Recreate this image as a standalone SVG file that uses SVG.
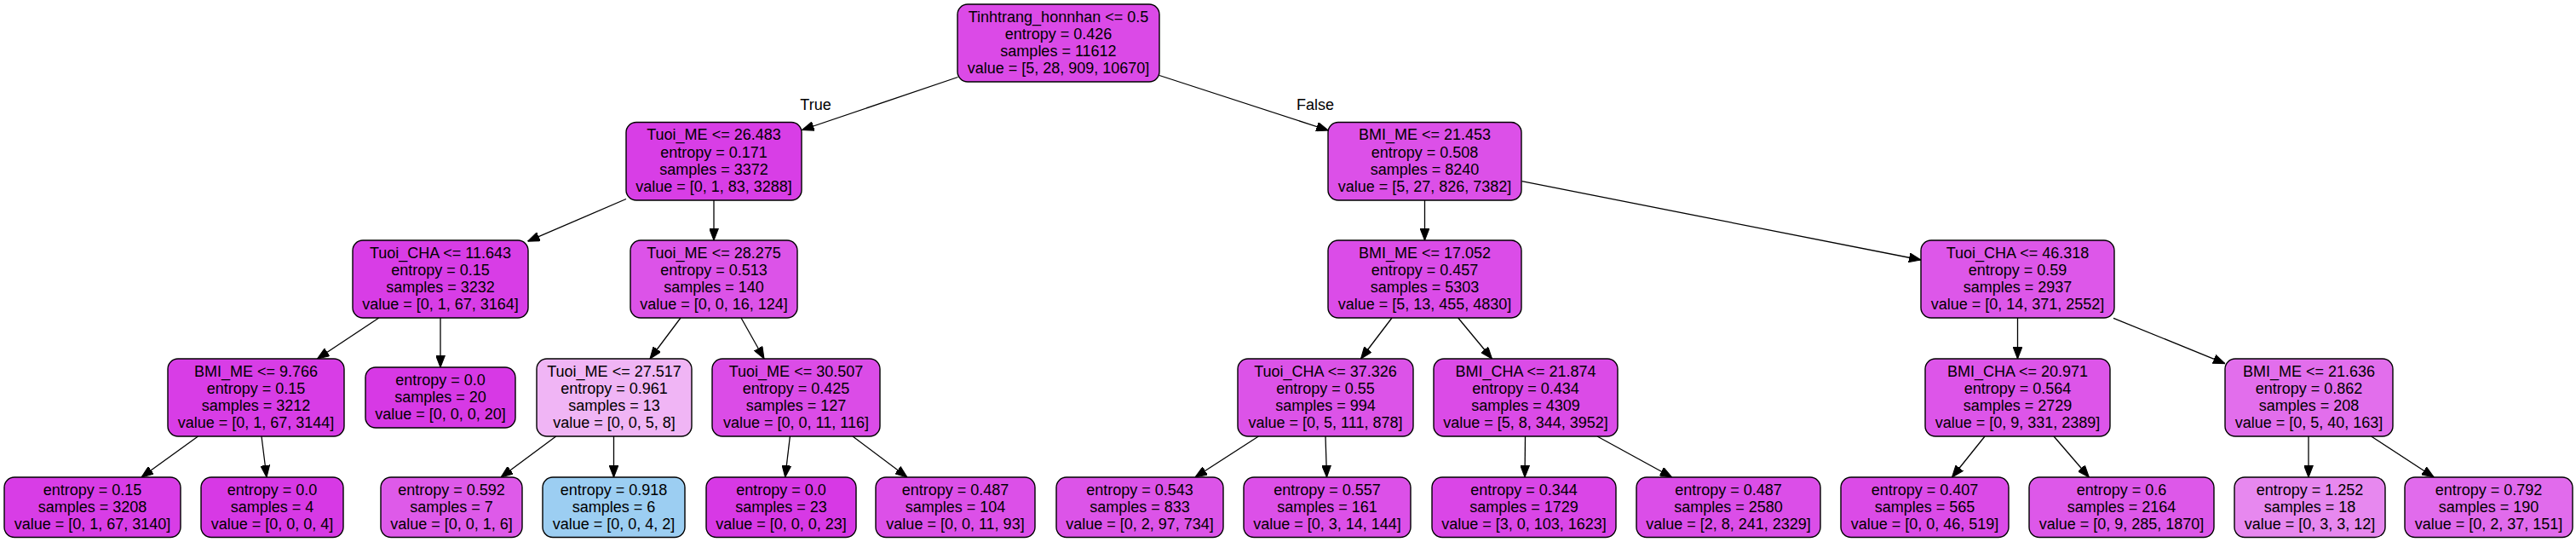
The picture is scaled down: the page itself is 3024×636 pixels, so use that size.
<svg xmlns="http://www.w3.org/2000/svg" width="3024" height="636" viewBox="0 0 3024 636">
<style>
text{font-family:"Liberation Sans",Arial,Helvetica,sans-serif;font-size:18px;text-anchor:middle;fill:#000}
.nd rect{stroke:#000;stroke-width:1.4}
#edges line{stroke:#000;stroke-width:1.3;marker-end:url(#ah)}
</style>
<defs>
<marker id="ah" markerUnits="userSpaceOnUse" markerWidth="14" markerHeight="11" refX="13" refY="5" orient="auto" viewBox="0 0 13 10">
<path d="M0,0 L13,5 L0,10 z" fill="#000" stroke="#000" stroke-width="1"/>
</marker>
</defs>
<rect x="0" y="0" width="3024" height="636" fill="#fff"/>
<g id="edges">
<line x1="1124.5" y1="90.5" x2="941.5" y2="152.5"/>
<line x1="1361" y1="88.5" x2="1559.3" y2="153"/>
<line x1="735" y1="233.5" x2="619.5" y2="283.2"/>
<line x1="838" y1="235" x2="838" y2="282"/>
<line x1="1672.5" y1="235" x2="1672.5" y2="282"/>
<line x1="1786.5" y1="212.7" x2="2255" y2="305"/>
<line x1="444.8" y1="373" x2="372.5" y2="421"/>
<line x1="517" y1="373" x2="517" y2="431"/>
<line x1="799" y1="373" x2="763" y2="421"/>
<line x1="870" y1="373" x2="897" y2="421"/>
<line x1="1634" y1="373" x2="1597.5" y2="421"/>
<line x1="1711.7" y1="373" x2="1751.5" y2="421"/>
<line x1="2368.5" y1="373" x2="2368.5" y2="421"/>
<line x1="2481" y1="373.3" x2="2612" y2="426.6"/>
<line x1="232.5" y1="512" x2="166" y2="560"/>
<line x1="307" y1="512" x2="313" y2="560"/>
<line x1="652.7" y1="512" x2="588" y2="560"/>
<line x1="720.5" y1="512" x2="720.5" y2="560"/>
<line x1="927.4" y1="512" x2="921.7" y2="560"/>
<line x1="1001" y1="512" x2="1065" y2="560"/>
<line x1="1477.4" y1="512" x2="1403" y2="560"/>
<line x1="1556" y1="512" x2="1557.5" y2="560"/>
<line x1="1790.5" y1="512" x2="1790" y2="560"/>
<line x1="1875" y1="512" x2="1962.7" y2="560"/>
<line x1="2330" y1="512" x2="2291.5" y2="560"/>
<line x1="2411" y1="512" x2="2452.4" y2="560"/>
<line x1="2710" y1="512" x2="2710" y2="560"/>
<line x1="2783.6" y1="512" x2="2857.2" y2="560"/>
<text x="957.5" y="129">True</text>
<text x="1544" y="128.5">False</text>
</g>
<g id="n0" class="nd"><rect x="1124" y="5" width="237" height="91" rx="12" fill="#db4ae7"/>
<text x="1242.5" y="25.5">Tinhtrang_honnhan &lt;= 0.5<tspan x="1242.5" dy="20.2">entropy = 0.426</tspan><tspan x="1242.5" dy="20.2">samples = 11612</tspan><tspan x="1242.5" dy="20.2">value = [5, 28, 909, 10670]</tspan></text></g>
<g id="n1" class="nd"><rect x="735" y="143.5" width="206" height="91.5" rx="12" fill="#d83ee6"/>
<text x="838" y="164.3">Tuoi_ME &lt;= 26.483<tspan x="838" dy="20.2">entropy = 0.171</tspan><tspan x="838" dy="20.2">samples = 3372</tspan><tspan x="838" dy="20.2">value = [0, 1, 83, 3288]</tspan></text></g>
<g id="n2" class="nd"><rect x="1559" y="143.5" width="227" height="91.5" rx="12" fill="#dc50e8"/>
<text x="1672.5" y="164.3">BMI_ME &lt;= 21.453<tspan x="1672.5" dy="20.2">entropy = 0.508</tspan><tspan x="1672.5" dy="20.2">samples = 8240</tspan><tspan x="1672.5" dy="20.2">value = [5, 27, 826, 7382]</tspan></text></g>
<g id="n3" class="nd"><rect x="414" y="282" width="206" height="91" rx="12" fill="#d83de6"/>
<text x="517" y="302.5">Tuoi_CHA &lt;= 11.643<tspan x="517" dy="20.2">entropy = 0.15</tspan><tspan x="517" dy="20.2">samples = 3232</tspan><tspan x="517" dy="20.2">value = [0, 1, 67, 3164]</tspan></text></g>
<g id="n4" class="nd"><rect x="740" y="282" width="196" height="91" rx="12" fill="#dc53e8"/>
<text x="838" y="302.5">Tuoi_ME &lt;= 28.275<tspan x="838" dy="20.2">entropy = 0.513</tspan><tspan x="838" dy="20.2">samples = 140</tspan><tspan x="838" dy="20.2">value = [0, 0, 16, 124]</tspan></text></g>
<g id="n5" class="nd"><rect x="1559" y="282" width="227" height="91" rx="12" fill="#db4ce8"/>
<text x="1672.5" y="302.5">BMI_ME &lt;= 17.052<tspan x="1672.5" dy="20.2">entropy = 0.457</tspan><tspan x="1672.5" dy="20.2">samples = 5303</tspan><tspan x="1672.5" dy="20.2">value = [5, 13, 455, 4830]</tspan></text></g>
<g id="n6" class="nd"><rect x="2255" y="282" width="227" height="91" rx="12" fill="#dd57e9"/>
<text x="2368.5" y="302.5">Tuoi_CHA &lt;= 46.318<tspan x="2368.5" dy="20.2">entropy = 0.59</tspan><tspan x="2368.5" dy="20.2">samples = 2937</tspan><tspan x="2368.5" dy="20.2">value = [0, 14, 371, 2552]</tspan></text></g>
<g id="n7" class="nd"><rect x="197" y="421" width="207" height="91" rx="12" fill="#d83de6"/>
<text x="300.5" y="441.5">BMI_ME &lt;= 9.766<tspan x="300.5" dy="20.2">entropy = 0.15</tspan><tspan x="300.5" dy="20.2">samples = 3212</tspan><tspan x="300.5" dy="20.2">value = [0, 1, 67, 3144]</tspan></text></g>
<g id="n8" class="nd"><rect x="429" y="431" width="176" height="71" rx="12" fill="#d739e5"/>
<text x="517" y="451.8">entropy = 0.0<tspan x="517" dy="20.2">samples = 20</tspan><tspan x="517" dy="20.2">value = [0, 0, 0, 20]</tspan></text></g>
<g id="n9" class="nd"><rect x="630" y="421" width="182" height="91" rx="12" fill="#f0b5f5"/>
<text x="721" y="441.5">Tuoi_ME &lt;= 27.517<tspan x="721" dy="20.2">entropy = 0.961</tspan><tspan x="721" dy="20.2">samples = 13</tspan><tspan x="721" dy="20.2">value = [0, 0, 5, 8]</tspan></text></g>
<g id="n10" class="nd"><rect x="836" y="421" width="197" height="91" rx="12" fill="#db4ce7"/>
<text x="934.5" y="441.5">Tuoi_ME &lt;= 30.507<tspan x="934.5" dy="20.2">entropy = 0.425</tspan><tspan x="934.5" dy="20.2">samples = 127</tspan><tspan x="934.5" dy="20.2">value = [0, 0, 11, 116]</tspan></text></g>
<g id="n11" class="nd"><rect x="1453" y="421" width="206" height="91" rx="12" fill="#dc53e8"/>
<text x="1556" y="441.5">Tuoi_CHA &lt;= 37.326<tspan x="1556" dy="20.2">entropy = 0.55</tspan><tspan x="1556" dy="20.2">samples = 994</tspan><tspan x="1556" dy="20.2">value = [0, 5, 111, 878]</tspan></text></g>
<g id="n12" class="nd"><rect x="1683" y="421" width="216" height="91" rx="12" fill="#db4be7"/>
<text x="1791" y="441.5">BMI_CHA &lt;= 21.874<tspan x="1791" dy="20.2">entropy = 0.434</tspan><tspan x="1791" dy="20.2">samples = 4309</tspan><tspan x="1791" dy="20.2">value = [5, 8, 344, 3952]</tspan></text></g>
<g id="n13" class="nd"><rect x="2260" y="421" width="217" height="91" rx="12" fill="#dd55e9"/>
<text x="2368.5" y="441.5">BMI_CHA &lt;= 20.971<tspan x="2368.5" dy="20.2">entropy = 0.564</tspan><tspan x="2368.5" dy="20.2">samples = 2729</tspan><tspan x="2368.5" dy="20.2">value = [0, 9, 331, 2389]</tspan></text></g>
<g id="n14" class="nd"><rect x="2612" y="421" width="197" height="91" rx="12" fill="#e26eec"/>
<text x="2710.5" y="441.5">BMI_ME &lt;= 21.636<tspan x="2710.5" dy="20.2">entropy = 0.862</tspan><tspan x="2710.5" dy="20.2">samples = 208</tspan><tspan x="2710.5" dy="20.2">value = [0, 5, 40, 163]</tspan></text></g>
<g id="l1" class="nd"><rect x="5" y="560" width="207" height="70.5" rx="12" fill="#d83de6"/>
<text x="108.5" y="580.5">entropy = 0.15<tspan x="108.5" dy="20.2">samples = 3208</tspan><tspan x="108.5" dy="20.2">value = [0, 1, 67, 3140]</tspan></text></g>
<g id="l2" class="nd"><rect x="236" y="560" width="167" height="70.5" rx="12" fill="#d739e5"/>
<text x="319.5" y="580.5">entropy = 0.0<tspan x="319.5" dy="20.2">samples = 4</tspan><tspan x="319.5" dy="20.2">value = [0, 0, 0, 4]</tspan></text></g>
<g id="l3" class="nd"><rect x="447" y="560" width="166" height="70.5" rx="12" fill="#de5ae9"/>
<text x="530" y="580.5">entropy = 0.592<tspan x="530" dy="20.2">samples = 7</tspan><tspan x="530" dy="20.2">value = [0, 0, 1, 6]</tspan></text></g>
<g id="l4" class="nd"><rect x="637" y="560" width="167" height="70.5" rx="12" fill="#9ccef2"/>
<text x="720.5" y="580.5">entropy = 0.918<tspan x="720.5" dy="20.2">samples = 6</tspan><tspan x="720.5" dy="20.2">value = [0, 0, 4, 2]</tspan></text></g>
<g id="l5" class="nd"><rect x="829" y="560" width="176" height="70.5" rx="12" fill="#d739e5"/>
<text x="917" y="580.5">entropy = 0.0<tspan x="917" dy="20.2">samples = 23</tspan><tspan x="917" dy="20.2">value = [0, 0, 0, 23]</tspan></text></g>
<g id="l6" class="nd"><rect x="1028" y="560" width="187" height="70.5" rx="12" fill="#dc50e8"/>
<text x="1121.5" y="580.5">entropy = 0.487<tspan x="1121.5" dy="20.2">samples = 104</tspan><tspan x="1121.5" dy="20.2">value = [0, 0, 11, 93]</tspan></text></g>
<g id="l7" class="nd"><rect x="1240" y="560" width="196" height="70.5" rx="12" fill="#dc54e8"/>
<text x="1338" y="580.5">entropy = 0.543<tspan x="1338" dy="20.2">samples = 833</tspan><tspan x="1338" dy="20.2">value = [0, 2, 97, 734]</tspan></text></g>
<g id="l8" class="nd"><rect x="1460" y="560" width="196" height="70.5" rx="12" fill="#dc50e8"/>
<text x="1558" y="580.5">entropy = 0.557<tspan x="1558" dy="20.2">samples = 161</tspan><tspan x="1558" dy="20.2">value = [0, 3, 14, 144]</tspan></text></g>
<g id="l9" class="nd"><rect x="1681" y="560" width="216" height="70.5" rx="12" fill="#da46e7"/>
<text x="1789" y="580.5">entropy = 0.344<tspan x="1789" dy="20.2">samples = 1729</tspan><tspan x="1789" dy="20.2">value = [3, 0, 103, 1623]</tspan></text></g>
<g id="l10" class="nd"><rect x="1921" y="560" width="216" height="70.5" rx="12" fill="#db4ee8"/>
<text x="2029" y="580.5">entropy = 0.487<tspan x="2029" dy="20.2">samples = 2580</tspan><tspan x="2029" dy="20.2">value = [2, 8, 241, 2329]</tspan></text></g>
<g id="l11" class="nd"><rect x="2161" y="560" width="197" height="70.5" rx="12" fill="#db4be7"/>
<text x="2259.5" y="580.5">entropy = 0.407<tspan x="2259.5" dy="20.2">samples = 565</tspan><tspan x="2259.5" dy="20.2">value = [0, 0, 46, 519]</tspan></text></g>
<g id="l12" class="nd"><rect x="2382" y="560" width="217" height="70.5" rx="12" fill="#dd58e9"/>
<text x="2490.5" y="580.5">entropy = 0.6<tspan x="2490.5" dy="20.2">samples = 2164</tspan><tspan x="2490.5" dy="20.2">value = [0, 9, 285, 1870]</tspan></text></g>
<g id="l13" class="nd"><rect x="2623" y="560" width="177" height="70.5" rx="12" fill="#e788ef"/>
<text x="2711.5" y="580.5">entropy = 1.252<tspan x="2711.5" dy="20.2">samples = 18</tspan><tspan x="2711.5" dy="20.2">value = [0, 3, 3, 12]</tspan></text></g>
<g id="l14" class="nd"><rect x="2823" y="560" width="197" height="70.5" rx="12" fill="#e16bec"/>
<text x="2921.5" y="580.5">entropy = 0.792<tspan x="2921.5" dy="20.2">samples = 190</tspan><tspan x="2921.5" dy="20.2">value = [0, 2, 37, 151]</tspan></text></g>
</svg>
